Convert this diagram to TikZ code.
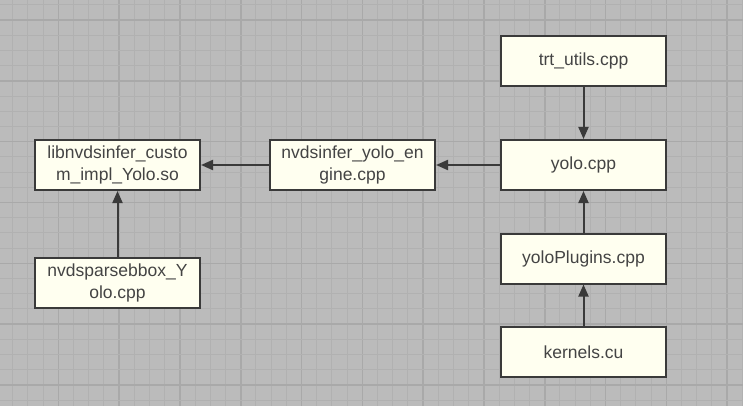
\documentclass[tikz,border=0pt]{standalone}
\usepackage{fontspec}
\setmainfont{Liberation Sans}
\usetikzlibrary{arrows.meta}
\definecolor{bg}{HTML}{BBBBBB}
\definecolor{minorg}{HTML}{B1B1B1}
\definecolor{majorg}{HTML}{A9A9A9}
\definecolor{boxfill}{HTML}{FFFFF0}
\definecolor{boxline}{HTML}{3A3A3A}
\definecolor{txt}{HTML}{444444}
\tikzset{
  filebox/.style={draw=boxline, fill=boxfill, line width=2pt, minimum width=165pt, minimum height=50pt,
    inner sep=0pt, align=center, text=txt, font=\fontsize{17.5}{21.5}\selectfont},
  link/.style={draw=boxline, line width=2pt, -{Triangle[length=12pt,width=10pt]}}
}
\begin{document}
\begin{tikzpicture}[x=1pt,y=-1pt]
\useasboundingbox (0,0) rectangle (743,406);
\fill[bg] (0,0) rectangle (743,406);
\foreach \i in {0,...,48}{
  \pgfmathsetmacro{\xx}{12.7+\i*15.2}
  \pgfmathtruncatemacro{\m}{mod(\i,4)}
  \ifnum\m=3
    \draw[majorg, line width=1.6pt] (\xx,0) -- (\xx,406);
  \else
    \draw[minorg, line width=1pt] (\xx,0) -- (\xx,406);
  \fi
}
\foreach \j in {0,...,26}{
  \pgfmathsetmacro{\yy}{4.9+\j*15.2}
  \pgfmathtruncatemacro{\m}{mod(\j,4)}
  \ifnum\m=1
    \draw[majorg, line width=1.6pt] (0,\yy) -- (743,\yy);
  \else
    \draw[minorg, line width=1pt] (0,\yy) -- (743,\yy);
  \fi
}
\node[filebox] (lib) at (117.5,165) {libnvdsinfer\_custo\\m\_impl\_Yolo.so};
\node[filebox] (parse) at (117.5,283) {nvdsparsebbox\_Y\\olo.cpp};
\node[filebox] (engine) at (352.5,165) {nvdsinfer\_yolo\_en\\gine.cpp};
\node[filebox] (trt) at (583.5,61) {trt\_utils.cpp};
\node[filebox] (yolo) at (583.5,165) {yolo.cpp};
\node[filebox] (plugins) at (583.5,258.5) {yoloPlugins.cpp};
\node[filebox] (kernels) at (583.5,352) {kernels.cu};
\draw[link] (yolo) -- (engine);
\draw[link] (engine) -- (lib);
\draw[link] (parse) -- (lib);
\draw[link] (trt) -- (yolo);
\draw[link] (plugins) -- (yolo);
\draw[link] (kernels) -- (plugins);
\end{tikzpicture}
\end{document}
